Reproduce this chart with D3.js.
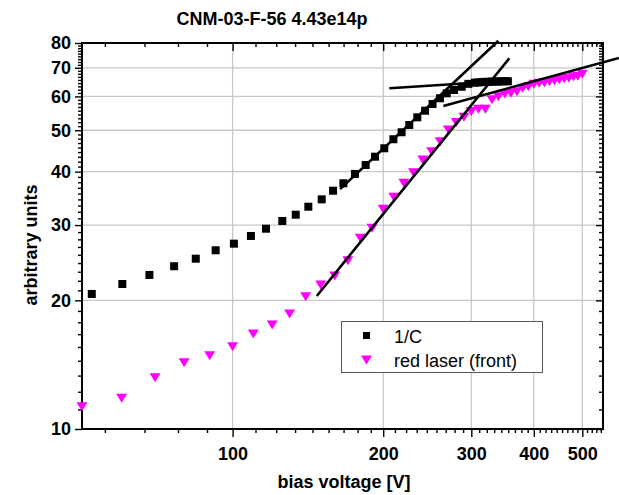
<!DOCTYPE html>
<html><head><meta charset="utf-8">
<script src="https://cdn.jsdelivr.net/npm/d3@7"></script>
<style>
html,body{margin:0;padding:0;background:#fff;}
text{font-family:"Liberation Sans",Arial,Helvetica,sans-serif;}
</style></head>
<body>
<svg id="chart" width="619" height="495"></svg>
<script>
// ---- data ----
const title = "CNM-03-F-56 4.43e14p";
const xLabel = "bias voltage [V]";
const yLabel = "arbitrary units";
const xMajorTicks = [100, 200, 300, 400, 500];
const yMajorTicks = [10, 20, 30, 40, 50, 60, 70, 80];
const seriesNames = ["1/C", "red laser (front)"];

// 1/C (black squares)
const cV = [52.3,60.2,68.2,76.4,84.4,92.5,100.6,108.8,116.6,125.7,133.7,141.7,150.7,158.8,166.5,175.6,184.5,192.6,201,209.6,217.7,225.5,234,242.5,251,259.7,267.9,277,287,296,305,310,315,320,325,330,335,340,345,350,355];
const cU = [20.7,21.84,22.93,24.03,25.03,26.19,27.14,28.29,29.42,30.67,31.72,33.12,34.46,36.1,37.58,39.51,41.47,43.36,45.37,47.63,49.46,51.44,53.6,55.55,57.6,59.4,61.0,62.1,63.2,64.2,64.6,64.7,64.8,64.9,64.9,65.0,65.0,65.0,65.1,65.1,65.1];

// red laser (magenta triangles)
const lV = [50,60,70,80,90,100,110,120,130,140,150,160,170,180,190,200,210,220,230,240,250,260,270,280,290,300,310,320,330,340,350,360,370,380,390,400,410,420,430,440,450,460,470,480,490,500];
const lU = [11.27,11.80,13.18,14.29,14.84,15.58,16.69,17.51,18.58,20.4,21.73,22.8,24.76,27.93,29.48,32.66,34.84,37.58,39.79,42.6,44.56,47.0,50.07,52.1,53.6,55.3,56.0,56.0,58.9,59.9,60.8,61.0,61.5,62.7,63.2,64.1,64.4,64.6,64.97,65.3,65.6,66.0,66.2,66.7,66.9,67.6];

// fitted straight lines (endpoints, [V, units])
const fitLines = [
  [[164, 36.4], [339.8, 81.0]],
  [[147.3, 20.47], [357.4, 73.7]],
  [[205.7, 62.7], [360, 65.4]],
  [[263.8, 57.0], [591.9, 73.8]]
];

// ---- drawing ----
const svg = d3.select("#chart");
const L = 82, R = 603, T = 43, B = 429;
const x = d3.scaleLog().domain([50, 550]).range([L, R]);
const y = d3.scaleLog().domain([10, 80]).range([B, T]);

const xMinor = d3.range(5, 50).map(k => k * 100 / 9).filter(v => v > 50 && v < 550 && Math.abs(v / 100 - Math.round(v / 100)) > 1e-6);
const yMinor = d3.range(10, 73).map(k => k * 10 / 9).filter(v => v > 10 && v < 80 && Math.abs(v / 10 - Math.round(v / 10)) > 1e-6);

// grid
const grid = svg.append("g").attr("stroke", "#c8c8c8").attr("stroke-width", 1.3);
grid.selectAll("line.gx").data(xMajorTicks).join("line")
  .attr("x1", d => x(d)).attr("x2", d => x(d)).attr("y1", T).attr("y2", B);
grid.selectAll("line.gy").data(yMajorTicks.filter(d => d > 10 && d < 80)).join("line")
  .attr("x1", L).attr("x2", R).attr("y1", d => y(d)).attr("y2", d => y(d));

function styleAxis(g, labels) {
  g.select(".domain").remove();
  g.selectAll(".tick line").attr("stroke", "#000").attr("stroke-width", 1.4);
  g.selectAll("text").attr("font-size", labels ? 18 : 0).attr("font-weight", "bold").attr("fill", "#000")
    .style("font-family", '"Liberation Sans",Arial,sans-serif');
  if (!labels) g.selectAll("text").remove();
}

// bottom
svg.append("g").attr("transform", `translate(0,${B})`)
  .call(d3.axisBottom(x).tickValues(xMajorTicks).tickFormat(d3.format("d")).tickSize(8).tickPadding(10))
  .call(g => styleAxis(g, true));
svg.append("g").attr("transform", `translate(0,${B})`)
  .call(d3.axisBottom(x).tickValues(xMinor).tickSize(4))
  .call(g => styleAxis(g, false));
// top (mirror, inward)
svg.append("g").attr("transform", `translate(0,${T})`)
  .call(d3.axisBottom(x).tickValues(xMajorTicks).tickSize(8))
  .call(g => styleAxis(g, false));
svg.append("g").attr("transform", `translate(0,${T})`)
  .call(d3.axisBottom(x).tickValues(xMinor).tickSize(4))
  .call(g => styleAxis(g, false));
// left
svg.append("g").attr("transform", `translate(${L},0)`)
  .call(d3.axisLeft(y).tickValues(yMajorTicks).tickFormat(d3.format("d")).tickSize(7).tickPadding(4))
  .call(g => styleAxis(g, true));
svg.append("g").attr("transform", `translate(${L},0)`)
  .call(d3.axisLeft(y).tickValues(yMinor).tickSize(4))
  .call(g => styleAxis(g, false));
// right (mirror, inward)
svg.append("g").attr("transform", `translate(${R},0)`)
  .call(d3.axisLeft(y).tickValues(yMajorTicks).tickSize(7))
  .call(g => styleAxis(g, false));
svg.append("g").attr("transform", `translate(${R},0)`)
  .call(d3.axisLeft(y).tickValues(yMinor).tickSize(4))
  .call(g => styleAxis(g, false));

// frame
svg.append("rect").attr("x", L).attr("y", T).attr("width", R - L).attr("height", B - T)
  .attr("fill", "none").attr("stroke", "#000").attr("stroke-width", 2);

// markers
const tri = "M-5.5,-4.5L5.5,-4.5L0,4.5Z";
svg.append("g").selectAll("path").data(lV.map((v, i) => [v, lU[i]])).join("path")
  .attr("d", tri).attr("fill", "#ff00ff")
  .attr("transform", d => `translate(${x(d[0])},${y(d[1])})`);
svg.append("g").selectAll("rect").data(cV.map((v, i) => [v, cU[i]])).join("rect")
  .attr("x", d => x(d[0]) - 4).attr("y", d => y(d[1]) - 4).attr("width", 8).attr("height", 8)
  .attr("fill", "#000");

// fit lines
const line = d3.line().x(d => x(d[0])).y(d => y(d[1]));
svg.append("g").selectAll("path").data(fitLines).join("path")
  .attr("d", line).attr("fill", "none").attr("stroke", "#000").attr("stroke-width", 2.6);

// legend
const lg = svg.append("g");
lg.append("rect").attr("x", 341.5).attr("y", 321.5).attr("width", 201).attr("height", 51)
  .attr("fill", "#fff").attr("stroke", "#555").attr("stroke-width", 1);
lg.append("rect").attr("x", 363).attr("y", 332).attr("width", 7).attr("height", 7).attr("fill", "#000");
lg.append("path").attr("d", tri).attr("fill", "#ff00ff").attr("transform", "translate(366.5,360)");
lg.append("text").attr("x", 394).attr("y", 342.5).attr("font-size", 18).text(seriesNames[0]);
lg.append("text").attr("x", 394).attr("y", 366.5).attr("font-size", 18).text(seriesNames[1]);

// titles
svg.append("text").attr("x", 272).attr("y", 25).attr("text-anchor", "middle")
  .attr("font-size", 18).attr("font-weight", "bold").text(title);
svg.append("text").attr("x", 344).attr("y", 488).attr("text-anchor", "middle")
  .attr("font-size", 18).attr("font-weight", "bold").text(xLabel);
svg.append("text").attr("transform", "translate(37,245) rotate(-90)").attr("text-anchor", "middle")
  .attr("font-size", 18).attr("font-weight", "bold").text(yLabel);
</script>
</body></html>
